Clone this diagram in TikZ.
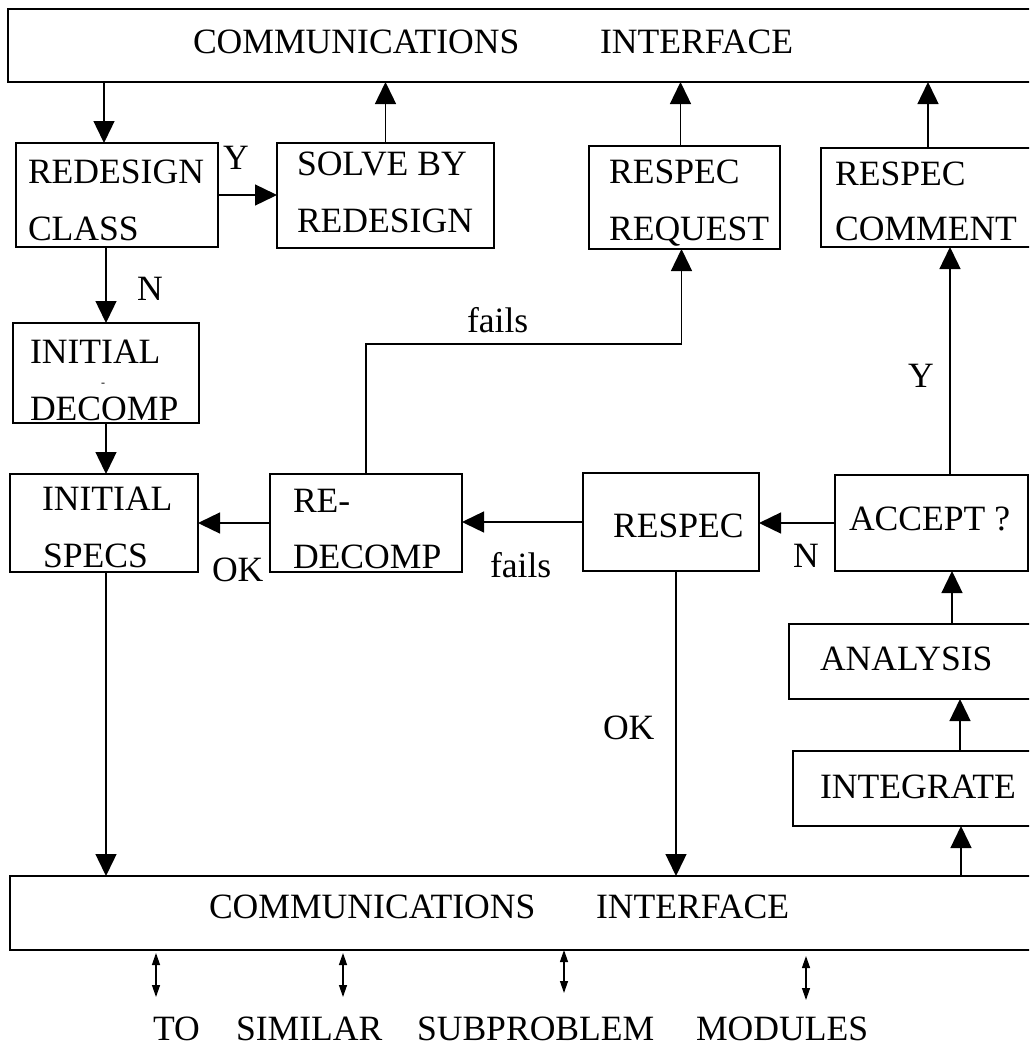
\documentclass[tikz,border=0pt]{standalone}
\usepackage{fontspec}
\setmainfont{Liberation Serif}
\usetikzlibrary{arrows.meta}
\begin{document}
\begin{tikzpicture}[x=1pt,y=-1pt,
  box/.style={draw, line width=1.6pt, inner sep=0pt, outer sep=0pt},
  txt/.style={inner sep=0pt, outer sep=0pt, anchor=base west,
    font=\fontsize{35.6}{40}\selectfont},
  arr/.style={line width=1.4pt, -{Triangle[length=22pt,width=21pt]}},
  darr/.style={line width=1.3pt,
    {Triangle[length=12pt,width=8pt]}-{Triangle[length=12pt,width=8pt]}}]

\useasboundingbox (0,0) rectangle (1029,1047);
\fill[white] (0,0) rectangle (1029,1047);
\clip (0,0) rectangle (1029,1047);

% ---- boxes (top-left corner, size) ----
\node[box, anchor=north west, minimum width=1040pt, minimum height=73pt] (top) at (8,9) {};
\node[box, anchor=north west, minimum width=202pt,  minimum height=104pt] (rc)  at (16,143) {};
\node[box, anchor=north west, minimum width=217pt,  minimum height=105pt] (sb)  at (277,143) {};
\node[box, anchor=north west, minimum width=191pt,  minimum height=103pt] (rr)  at (589,146) {};
\node[box, anchor=north west, minimum width=230pt,  minimum height=99pt]  (rcm) at (821,148) {};
\node[box, anchor=north west, minimum width=186pt,  minimum height=100pt] (id)  at (13,323) {};
\node[box, anchor=north west, minimum width=188pt,  minimum height=98pt]  (is)  at (10,474) {};
\node[box, anchor=north west, minimum width=192pt,  minimum height=98pt]  (rd)  at (270,474) {};
\node[box, anchor=north west, minimum width=176pt,  minimum height=98pt]  (rs)  at (583,473) {};
\node[box, anchor=north west, minimum width=193pt,  minimum height=96pt]  (ac)  at (835,475) {};
\node[box, anchor=north west, minimum width=260pt,  minimum height=75pt]  (an)  at (789,624) {};
\node[box, anchor=north west, minimum width=256pt,  minimum height=75pt]  (ig)  at (793,751) {};
\node[box, anchor=north west, minimum width=1040pt, minimum height=74pt]  (bot) at (10,876) {};

% ---- box texts ----
\node[txt] (top1) at (193,53) {COMMUNICATIONS};
\node[txt] (top2) at (600,53) {INTERFACE};
\node[txt] (rc1) at (28,183) {REDESIGN};
\node[txt] (rc2) at (28,240) {CLASS};
\node[txt] (sb1) at (297,175) {SOLVE BY};
\node[txt] (sb2) at (297,232) {REDESIGN};
\node[txt] (rr1) at (609,183) {RESPEC};
\node[txt] (rr2) at (609,240) {REQUEST};
\node[txt] (rcm1) at (835,185) {RESPEC};
\node[txt] (rcm2) at (835,240) {COMMENT};
\node[txt] (id1) at (30,363) {INITIAL};
\node[inner sep=0pt, font=\fontsize{12}{12}\selectfont] (id0) at (103,385) {-};
\node[txt] (id2) at (30,420) {DECOMP};
\node[txt] (is1) at (42,510) {INITIAL};
\node[txt] (is2) at (43,567) {SPECS};
\node[txt] (rd1) at (293,512) {RE-};
\node[txt] (rd2) at (293,568) {DECOMP};
\node[txt] (rs1) at (613,537) {RESPEC};
\node[txt] (ac1) at (849,530) {ACCEPT ?};
\node[txt] (an1) at (820,670) {ANALYSIS};
\node[txt] (ig1) at (820,798) {INTEGRATE};
\node[txt] (bot1) at (209,918) {COMMUNICATIONS};
\node[txt] (bot2) at (596,918) {INTERFACE};

% ---- connector labels ----
\node[txt] (ly1) at (223,169) {Y};
\node[txt] (ln1) at (137,300) {N};
\node[txt] (lf1) at (467,332) {fails};
\node[txt] (lok1) at (212,581) {OK};
\node[txt] (lf2) at (490,577) {fails};
\node[txt] (ln2) at (793,567) {N};
\node[txt] (ly2) at (908,387) {Y};
\node[txt] (lok2) at (603,739) {OK};

% ---- connectors ----
\coordinate (c1) at ([xshift=-13pt]rc.north);
\draw[arr] (top.south -| c1) -- (c1);
\draw[arr] (rc.east) -- (rc.east -| sb.west);
\draw[arr] (sb.north) -- (sb.north |- top.south);
\draw[arr] (rc.south -| id.north) -- (id.north);
\draw[arr] (id.south) -- (id.south |- is.north);
\draw[arr] (rd.west) -- (rd.west -| is.east);
\coordinate (c2) at ([xshift=-3pt]rr.south);
\draw[arr] (rd.north) -- ++(0,-130) -| (c2);
\draw[arr] (rs.west) -- (rs.west -| rd.east);
\draw[arr] (ac.west) -- (ac.west -| rs.east);
\coordinate (c3) at ([xshift=18.5pt]ac.north);
\draw[arr] (c3) -- (c3 |- rcm.south);
\coordinate (c4) at ([xshift=-8pt]rcm.north);
\draw[arr] (c4) -- (c4 |- top.south);
\coordinate (c5) at ([xshift=-4pt]rr.north);
\draw[arr] (c5) -- (c5 |- top.south);
\coordinate (c6) at ([xshift=5pt]rs.south);
\draw[arr] (c6) -- (c6 |- bot.north);
\coordinate (c7) at ([xshift=20.5pt]ac.south);
\draw[arr] (an.north -| c7) -- (c7);
\coordinate (c8) at ([xshift=41pt]an.south);
\draw[arr] (ig.north -| c8) -- (c8);
\coordinate (c9) at ([xshift=40pt]ig.south);
\draw[arr] (bot.north -| c9) -- (c9);
\coordinate (c10) at ([xshift=2pt]is.south);
\draw[arr] (c10) -- (c10 |- bot.north);

% ---- links to the other modules ----
\coordinate (m1a) at (156,953); \coordinate (m1b) at (156,997);
\coordinate (m2a) at (343,953); \coordinate (m2b) at (343,997);
\coordinate (m3a) at (564,950); \coordinate (m3b) at (564,993);
\coordinate (m4a) at (806,956); \coordinate (m4b) at (806,1000);
\draw[darr] (m1a) -- (m1b);
\draw[darr] (m2a) -- (m2b);
\draw[darr] (m3a) -- (m3b);
\draw[darr] (m4a) -- (m4b);

\node[txt] (w1) at (153,1040) {TO};
\node[txt] (w2) at (236,1040) {SIMILAR};
\node[txt] (w3) at (417,1040) {SUBPROBLEM};
\node[txt] (w4) at (696,1040) {MODULES};
\end{tikzpicture}
\end{document}
